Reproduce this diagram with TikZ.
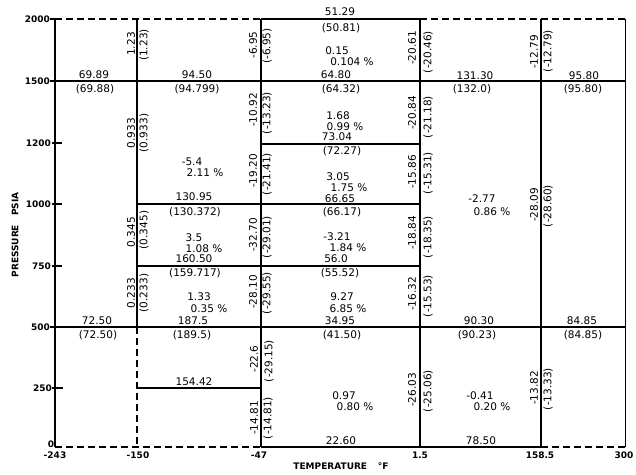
\documentclass[tikz,border=0pt]{standalone}
\usepackage{fontspec}
\setmainfont{DejaVu Sans}
\begin{document}
\begin{tikzpicture}[x=1pt,y=-1pt,
  gline/.style={line width=1.3pt},
  heavy/.style={line width=1.9pt},
  thinline/.style={line width=0.9pt},
  dashline/.style={line width=1.3pt, dash pattern=on 7pt off 4pt},
  num/.style={font=\fontsize{10.5}{11}\selectfont, inner sep=0pt},
  vnum/.style={num, rotate=90},
  ticklab/.style={font=\bfseries\fontsize{9}{10}\selectfont, inner sep=0pt},
  axtitle/.style={font=\bfseries\fontsize{9}{10}\selectfont, inner sep=0pt},
  tickmark/.style={line width=1.2pt}]
\useasboundingbox (0,0) rectangle (636,474);
% grid coordinates: columns A..F, rows y2000..y0
\foreach \c/\x in {A/55,B/137,C/261,D/420,E/541,F/625}{
  \foreach \r/\y in {a/19,b/81,c/144,d/204,e/266,f/327,g/388,h/447}{
    \coordinate (\c\r) at (\x,\y);
  }
}
% verticals
\draw[heavy] (Aa) -- (Ah);
\draw[gline] (Ba) -- (Bf);
\draw[dashline] (Bf) -- (Bh);
\draw[gline] (Ca) -- (Ch);
\draw[gline] (Da) -- (Dh);
\draw[gline] (Ea) -- (Eh);
\draw[thinline] (Fa) -- (Fh);
% horizontals
\draw[dashline] (Aa) -- (Ca);
\draw[gline] (Ca) -- (Da);
\draw[dashline] (Da) -- (Fa);
\draw[heavy] (Ab) -- (Fb);
\draw[gline] (Cc) -- (Dc);
\draw[gline] (Bd) -- (Dd);
\draw[gline] (Be) -- (De);
\draw[heavy] (Af) -- (Ff);
\draw[gline] (Bg) -- (Cg);
\draw[dashline] (Ah) -- (Ch);
\draw[gline] (Ch) -- (Eh);
\draw[dashline] (Eh) -- (Fh);
% tick marks
\coordinate (t1a) at (50,19); \draw[tickmark] (t1a) -- (Aa);
\coordinate (t2a) at (50,81); \draw[tickmark] (t2a) -- (Ab);
\coordinate (t3a) at (52,143); \coordinate (t3b) at (62,143); \draw[tickmark] (t3a) -- (t3b);
\coordinate (t4a) at (52,204); \coordinate (t4b) at (62,204); \draw[tickmark] (t4a) -- (t4b);
\coordinate (t5a) at (52,266); \coordinate (t5b) at (62,266); \draw[tickmark] (t5a) -- (t5b);
\coordinate (t6a) at (50,327); \draw[tickmark] (t6a) -- (Af);
\coordinate (t7a) at (52,388); \coordinate (t7b) at (63,388); \draw[tickmark] (t7a) -- (t7b);
% tick labels (pressure)
\node[ticklab,anchor=east] (p2000) at (50,19) {2000};
\node[ticklab,anchor=east] (p1500) at (50,81) {1500};
\node[ticklab,anchor=east] (p1200) at (51,143) {1200};
\node[ticklab,anchor=east] (p1000) at (51,204) {1000};
\node[ticklab,anchor=east] (p750) at (51,266) {750};
\node[ticklab,anchor=east] (p500) at (50,327) {500};
\node[ticklab,anchor=east] (p250) at (52,388) {250};
\node[ticklab] (p0) at (51,444) {0};
% tick labels (temperature)
\node[ticklab] (tm243) at (55,455) {-243};
\node[ticklab] (tm150) at (138,455) {-150};
\node[ticklab] (tm47) at (259,455) {-47};
\node[ticklab] (t15) at (420,455) {1.5};
\node[ticklab] (t1585) at (540,455) {158.5};
\node[ticklab] (t300) at (624,455) {300};
% axis titles
\node[axtitle] (xtitle) at (341,466) {TEMPERATURE\hspace{1.2em}°F};
\node[axtitle,rotate=90] (ytitle) at (15,235) {PRESSURE\hspace{1em}PSIA};
% horizontal line labels
\node[num] (h1) at (340,12) {51.29};
\node[num] (h2) at (341,28) {(50.81)};
\node[num] (h3) at (94,75) {69.89};
\node[num] (h4) at (95,89) {(69.88)};
\node[num] (h5) at (197,75) {94.50};
\node[num] (h6) at (197,89) {(94.799)};
\node[num] (h7) at (336,75) {64.80};
\node[num] (h8) at (341,89) {(64.32)};
\node[num] (h9) at (475,76) {131.30};
\node[num] (h10) at (472,89) {(132.0)};
\node[num] (h11) at (584,76) {95.80};
\node[num] (h12) at (583,89) {(95.80)};
\node[num] (h13) at (337,137) {73.04};
\node[num] (h14) at (342,151) {(72.27)};
\node[num] (h15) at (194,197) {130.95};
\node[num] (h16) at (195,212) {(130.372)};
\node[num] (h17) at (340,199) {66.65};
\node[num] (h18) at (342,212) {(66.17)};
\node[num] (h19) at (194,259) {160.50};
\node[num] (h20) at (195,273) {(159.717)};
\node[num] (h21) at (336,259) {56.0};
\node[num] (h22) at (340,273) {(55.52)};
\node[num] (h23) at (97,321) {72.50};
\node[num] (h24) at (98,335) {(72.50)};
\node[num] (h25) at (193,321) {187.5};
\node[num] (h26) at (192,335) {(189.5)};
\node[num] (h27) at (340,321) {34.95};
\node[num] (h28) at (342,335) {(41.50)};
\node[num] (h29) at (479,321) {90.30};
\node[num] (h30) at (477,335) {(90.23)};
\node[num] (h31) at (582,321) {84.85};
\node[num] (h32) at (583,335) {(84.85)};
\node[num] (h33) at (194,382) {154.42};
\node[num] (h34) at (341,441) {22.60};
\node[num] (h35) at (481,441) {78.50};
% region values
\node[num] (r1a) at (337,51) {0.15};
\node[num] (r1b) at (352,62) {0.104 \%};
\node[num] (r2a) at (338,116) {1.68};
\node[num] (r2b) at (345,127) {0.99 \%};
\node[num] (r3a) at (338,177) {3.05};
\node[num] (r3b) at (349,188) {1.75 \%};
\node[num] (r4a) at (337,237) {-3.21};
\node[num] (r4b) at (348,248) {1.84 \%};
\node[num] (r5a) at (342,297) {9.27};
\node[num] (r5b) at (348,309) {6.85 \%};
\node[num] (r6a) at (344,396) {0.97};
\node[num] (r6b) at (355,407) {0.80 \%};
\node[num] (r7a) at (192,162) {-5.4};
\node[num] (r7b) at (205,173) {2.11 \%};
\node[num] (r8a) at (194,238) {3.5};
\node[num] (r8b) at (204,249) {1.08 \%};
\node[num] (r9a) at (199,297) {1.33};
\node[num] (r9b) at (209,309) {0.35 \%};
\node[num] (r10a) at (482,199) {-2.77};
\node[num] (r10b) at (492,212) {0.86 \%};
\node[num] (r11a) at (480,396) {-0.41};
\node[num] (r11b) at (492,407) {0.20 \%};
% vertical line labels, column B
\node[vnum] (vb1) at (131,44) {1.23};
\node[vnum] (vb2) at (144,45) {(1.23)};
\node[vnum] (vb3) at (131,133) {0.933};
\node[vnum] (vb4) at (144,133) {(0.933)};
\node[vnum] (vb5) at (131,232) {0.345};
\node[vnum] (vb6) at (144,230) {(0.345)};
\node[vnum] (vb7) at (131,293) {0.233};
\node[vnum] (vb8) at (144,293) {(0.233)};
% column C
\node[vnum] (vc1) at (253,45) {-6.95};
\node[vnum] (vc2) at (267,46) {(-6.95)};
\node[vnum] (vc3) at (253,110) {-10.92};
\node[vnum] (vc4) at (267,113) {(-13.23)};
\node[vnum] (vc5) at (253,171) {-19.20};
\node[vnum] (vc6) at (267,174) {(-21.41)};
\node[vnum] (vc7) at (253,235) {-32.70};
\node[vnum] (vc8) at (267,237) {(-29.01)};
\node[vnum] (vc9) at (253,292) {-28.10};
\node[vnum] (vc10) at (267,293) {(-29.55)};
\node[vnum] (vc11) at (254,359) {-22.6};
\node[vnum] (vc12) at (269,361) {(-29.15)};
\node[vnum] (vc13) at (254,418) {-14.81};
\node[vnum] (vc14) at (268,418) {(-14.81)};
% column D
\node[vnum] (vd1) at (412,48) {-20.61};
\node[vnum] (vd2) at (428,52) {(-20.46)};
\node[vnum] (vd3) at (412,113) {-20.84};
\node[vnum] (vd4) at (428,117) {(-21.18)};
\node[vnum] (vd5) at (412,172) {-15.86};
\node[vnum] (vd6) at (428,173) {(-15.31)};
\node[vnum] (vd7) at (412,233) {-18.84};
\node[vnum] (vd8) at (428,237) {(-18.35)};
\node[vnum] (vd9) at (412,294) {-16.32};
\node[vnum] (vd10) at (428,296) {(-15.53)};
\node[vnum] (vd11) at (412,390) {-26.03};
\node[vnum] (vd12) at (428,391) {(-25.06)};
% column E
\node[vnum] (ve1) at (534,52) {-12.79};
\node[vnum] (ve2) at (548,51) {(-12.79)};
\node[vnum] (ve3) at (534,205) {-28.09};
\node[vnum] (ve4) at (548,206) {(-28.60)};
\node[vnum] (ve5) at (534,388) {-13.82};
\node[vnum] (ve6) at (548,389) {(-13.33)};
\end{tikzpicture}
\end{document}
